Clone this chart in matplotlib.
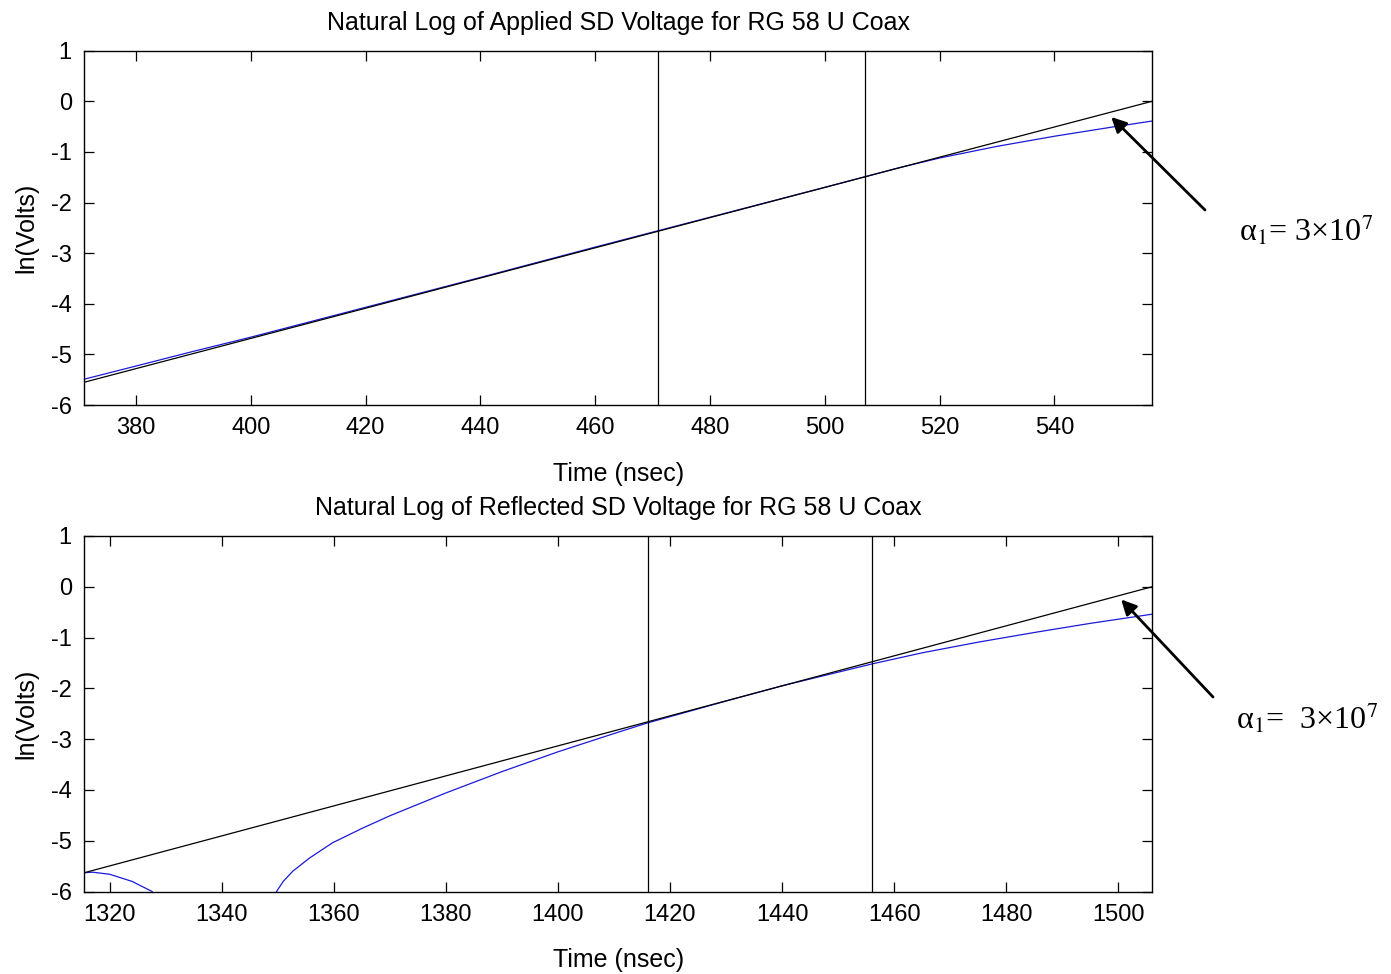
import matplotlib
matplotlib.use("Agg")
import matplotlib.pyplot as plt

plt.rcParams['font.family'] = ['Liberation Sans', 'DejaVu Sans']
plt.rcParams['mathtext.fontset'] = 'stix'
plt.rcParams['axes.unicode_minus'] = False

# ---- Applied pulse (top panel) ----
applied_xlim = [371, 557]
applied_t = [371, 380, 390, 400, 420, 440, 460, 480, 500, 507, 513, 520, 530, 540, 550, 557]
applied_lnv = [-5.49, -5.23, -4.94, -4.66, -4.07, -3.48, -2.88, -2.29, -1.70, -1.49, -1.31,
               -1.12, -0.89, -0.69, -0.51, -0.39]
applied_fit_t = [371, 557]
applied_fit_lnv = [-5.55, 0.0]
applied_markers = [471, 507]
applied_xticks = [380, 400, 420, 440, 460, 480, 500, 520, 540]

# ---- Reflected pulse (bottom panel) ----
reflected_xlim = [1315.5, 1506]
reflected_t_early = [1315.5, 1317, 1320, 1324, 1327.6]
reflected_lnv_early = [-5.63, -5.62, -5.66, -5.80, -6.0]
reflected_t = [1349.8, 1351, 1352.7, 1355.7, 1359.8, 1365, 1370, 1380, 1390, 1400, 1410, 1416,
               1430, 1440, 1456, 1465, 1475, 1485, 1495, 1506]
reflected_lnv = [-6.0, -5.80, -5.60, -5.34, -5.04, -4.76, -4.51, -4.06, -3.64, -3.25, -2.89,
                 -2.68, -2.25, -1.95, -1.52, -1.30, -1.09, -0.90, -0.72, -0.54]
reflected_fit_t = [1315.5, 1506]
reflected_fit_lnv = [-5.63, 0.0]
reflected_markers = [1416, 1456]
reflected_xticks = [1320, 1340, 1360, 1380, 1400, 1420, 1440, 1460, 1480, 1500]

yticks = [-6, -5, -4, -3, -2, -1, 0, 1]
ylim = [-6, 1]

W, H = 1391, 974
fig = plt.figure(figsize=(W / 100, H / 100), dpi=100)
fig.patch.set_facecolor('white')

BLUE = '#1a1ad8'


def px_box(left, top, right, bottom):
    return [left / W, 1 - bottom / H, (right - left) / W, (bottom - top) / H]


def style_axes(ax):
    for s in ax.spines.values():
        s.set_linewidth(1.0)
    ax.tick_params(direction='in', length=7, width=0.9, top=True, right=True,
                   labelsize=17, pad=9)
    ax.set_ylim(*ylim)
    ax.set_yticks(yticks)
    ax.set_ylabel('ln(Volts)', fontsize=18, labelpad=9)
    ax.set_xlabel('Time (nsec)', fontsize=18, labelpad=16)


ax1 = fig.add_axes(px_box(84.3, 50.7, 1152, 405))
ax1.plot(applied_t, applied_lnv, color=BLUE, lw=0.9)
ax1.plot(applied_fit_t, applied_fit_lnv, color='black', lw=0.9)
for m in applied_markers:
    ax1.axvline(m, color='black', lw=0.9)
ax1.set_xlim(*applied_xlim)
ax1.set_xticks(applied_xticks)
ax1.set_title('Natural Log of Applied SD Voltage for RG 58 U Coax', fontsize=18, pad=15)
style_axes(ax1)

ax2 = fig.add_axes(px_box(84.3, 536, 1152, 891.5))
ax2.plot(reflected_t_early, reflected_lnv_early, color=BLUE, lw=0.9)
ax2.plot(reflected_t, reflected_lnv, color=BLUE, lw=0.9)
ax2.plot(reflected_fit_t, reflected_fit_lnv, color='black', lw=0.9)
for m in reflected_markers:
    ax2.axvline(m, color='black', lw=0.9)
ax2.set_xlim(*reflected_xlim)
ax2.set_xticks(reflected_xticks)
ax2.set_title('Natural Log of Reflected SD Voltage for RG 58 U Coax', fontsize=18, pad=15)
style_axes(ax2)

# Attenuation constant callouts
arrow = dict(arrowstyle='-|>,head_length=0.9,head_width=0.45', color='black', lw=2.0,
             shrinkA=0, shrinkB=0)
ax1.annotate('', xy=(549.9, -0.31), xycoords='data',
             xytext=(1205 / W, 1 - 210 / H), textcoords='figure fraction',
             arrowprops=arrow, annotation_clip=False)
fig.text(1239 / W, 1 - 230 / H, r'α$_1$= 3×10$^7$', fontsize=23,
         family='Liberation Serif', va='center', ha='left')

ax2.annotate('', xy=(1500.5, -0.25), xycoords='data',
             xytext=(1213 / W, 1 - 697 / H), textcoords='figure fraction',
             arrowprops=arrow, annotation_clip=False)
fig.text(1236 / W, 1 - 718 / H, r'α$_1$=  3×10$^7$', fontsize=23,
         family='Liberation Serif', va='center', ha='left')

fig.savefig('out.png', dpi=100, facecolor='white')
